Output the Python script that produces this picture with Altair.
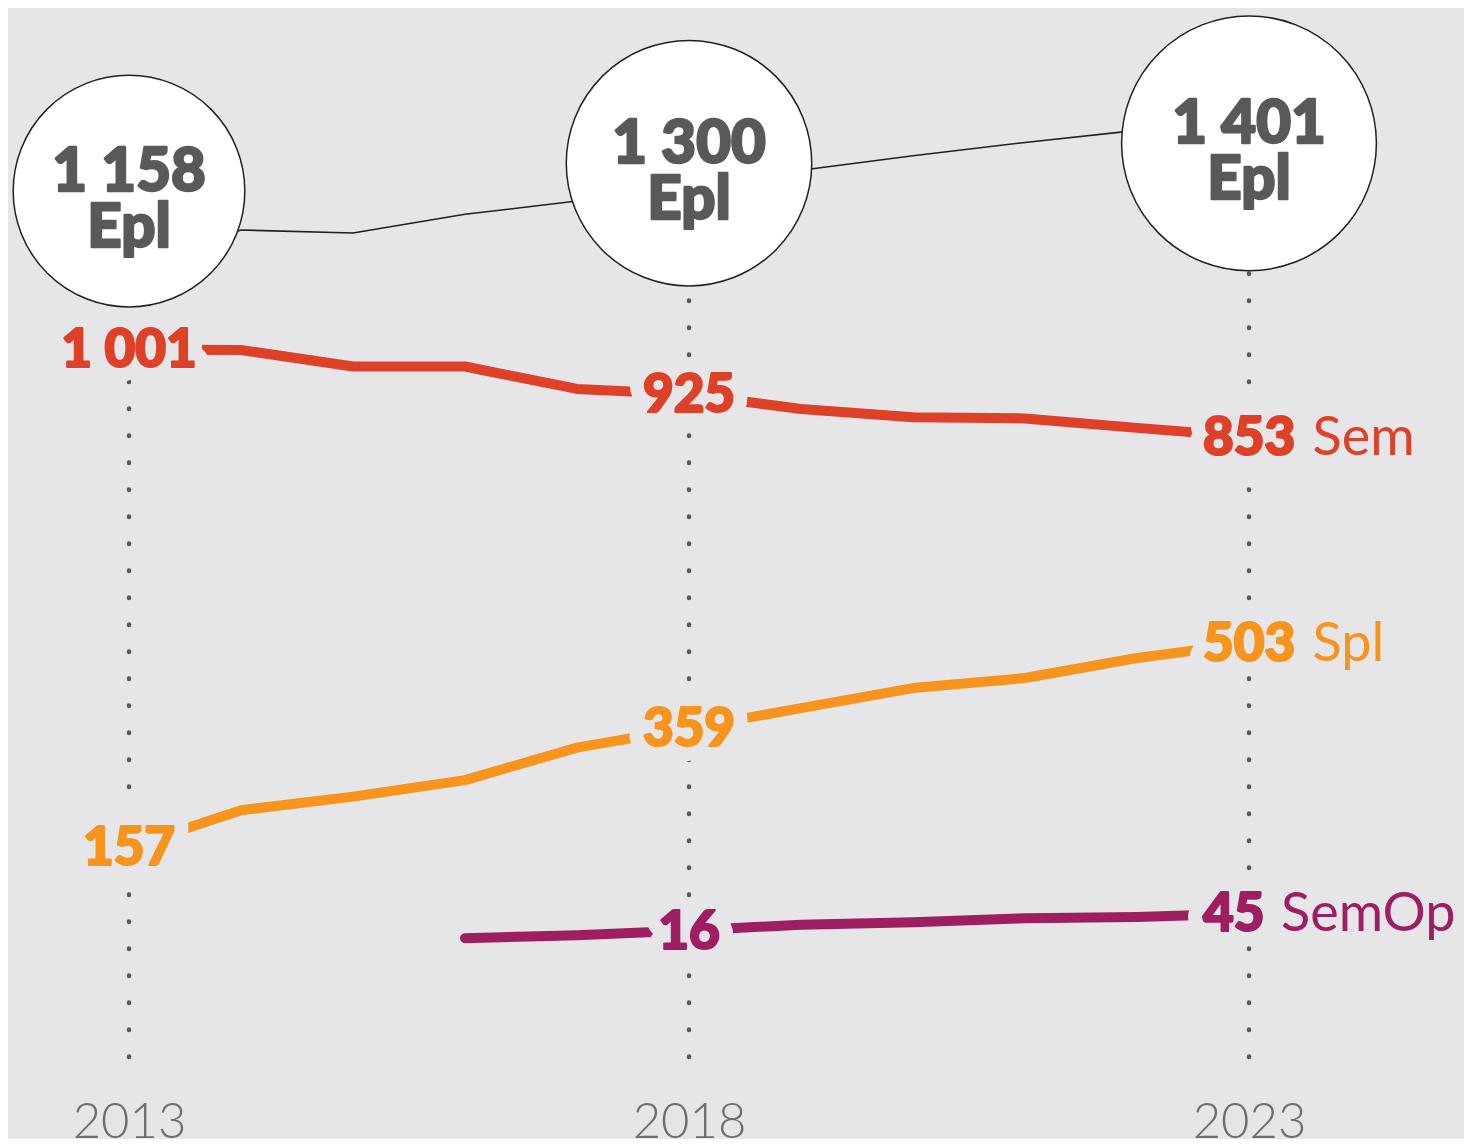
import altair as alt
import pandas as pd

# ---------------- data ----------------
years = list(range(2013, 2024))
sem = [1001, 1000, 972, 972, 934, 925, 900, 886, 884, 868, 853]
spl = [157, 220, 243, 271, 326, 359, 393, 427, 444, 478, 503]
semop = [None, None, None, 3, 8, 16, 26, 30, 37, 39, 45]
epl = [1158, 1220, 1215, 1246, 1268, 1300, 1319, 1343, 1365, 1385, 1401]

series_names = ["Sem", "Spl", "SemOp"]
series_values = [sem, spl, semop]
series_colors = ["#de4028", "#f7941e", "#9e1e62"]

circle_years = [2013, 2018, 2023]
circle_totals = [1158, 1300, 1401]
circle_unit = "Epl"

mid_label_years = [2013, 2018]
end_label_year = 2023
tick_years = [2013, 2018, 2023]


def fmt(v):
    return f"{v:,}".replace(",", " ")


# ---------------- tables ----------------
line_rows, mid_rows, end_rows = [], [], []
for name, vals in zip(series_names, series_values):
    for y, v in zip(years, vals):
        if v is None:
            continue
        line_rows.append({"year": y, "series": name, "value": v})
        if y in mid_label_years:
            mid_rows.append({"year": y, "series": name, "value": v, "label": fmt(v)})
        if y == end_label_year:
            end_rows.append({"year": y, "series": name, "value": v, "label": fmt(v)})
line_df = pd.DataFrame(line_rows)
mid_df = pd.DataFrame(mid_rows)
end_df = pd.DataFrame(end_rows)
epl_df = pd.DataFrame({"year": years, "total": epl})
circle_df = pd.DataFrame({
    "year": circle_years,
    "total": circle_totals,
    "label": [fmt(v) for v in circle_totals],
    "unit": [circle_unit] * len(circle_years),
})
rule_df = pd.DataFrame({"year": tick_years})

# ---------------- style ----------------
BG = "#e6e6e8"
DARK = "#58595b"
FONT = "Lato"
W, H = 1456, 1131

x0 = 121.0
per_year = 112.0
x_scale = alt.Scale(domain=[2013 - x0 / per_year, 2013 + (W - x0) / per_year], nice=False, zero=False)
x_axis = alt.Axis(values=tick_years, format="d", ticks=False, domain=False, grid=False,
                  labelFont=FONT, labelFontWeight=300, labelFontSize=49, labelColor="#6d6e71",
                  labelBaseline="alphabetic", labelPadding=-2, labelFlush=False,
                  labelOverlap=False, title=None)
X = alt.X("year:Q", scale=x_scale, axis=x_axis)

# series scale: plot_y = 932 - 0.59 v
s_scale = alt.Scale(domain=[(932 - H) / 0.59, 932 / 0.59], nice=False, zero=False)
# total line scale: plot_y = 960.9 - 0.604 v
t_scale = alt.Scale(domain=[(958.9 - H) / 0.604, 958.9 / 0.604], nice=False, zero=False)
# circle position scale: plot_y = 410.6 - 0.1965 v
c_scale = alt.Scale(domain=[(410.6 - H) / 0.1965, 410.6 / 0.1965], nice=False, zero=False)

color_scale = alt.Scale(domain=series_names, range=series_colors)
C = alt.Color("series:N", scale=color_scale, legend=None)
S = alt.Stroke("series:N", scale=color_scale, legend=None)
YS = alt.Y("value:Q", scale=s_scale, axis=None)

rules = alt.Chart(rule_df).mark_rule(
    color=DARK, strokeWidth=4.5, strokeDash=[0.5, 26.5], strokeCap="round"
).encode(x=X, y=alt.value(1049), y2=alt.value(240))

total_line = alt.Chart(epl_df).mark_line(color="#231f20", strokeWidth=1.6).encode(
    x=X, y=alt.Y("total:Q", scale=t_scale, axis=None)
)

series_lines = alt.Chart(line_df).mark_line(
    strokeWidth=10, strokeCap="round", strokeJoin="round"
).encode(x=X, y=YS, color=C, detail="series:N")

mid_halo = alt.Chart(mid_df).mark_text(
    font=FONT, fontWeight=900, fontSize=53, fill=BG, stroke=BG, strokeWidth=30,
    strokeJoin="round", align="center", baseline="middle", dy=2
).encode(x=X, y=YS, text="label:N")

mid_text = alt.Chart(mid_df).mark_text(
    font=FONT, fontWeight=900, fontSize=53, align="center", baseline="middle",
    strokeWidth=2.2, strokeJoin="round", dy=2
).encode(x=X, y=YS, text="label:N", color=C, stroke=S)

end_halo = alt.Chart(end_df).mark_text(
    font=FONT, fontWeight=900, fontSize=53, fill=BG, stroke=BG, strokeWidth=30,
    strokeJoin="round", align="left", baseline="middle", dx=-46, dy=2
).encode(x=X, y=YS, text="label:N")

end_text = alt.Chart(end_df).mark_text(
    font=FONT, fontWeight=900, fontSize=53, align="left", baseline="middle", dx=-46,
    strokeWidth=2.2, strokeJoin="round", dy=2
).encode(x=X, y=YS, text="label:N", color=C, stroke=S)

end_name = alt.Chart(end_df).transform_calculate(
    name_x=f"datum.year + (length(datum.label) * 31.5 - 31) / {per_year}"
).mark_text(
    font=FONT, fontWeight=400, fontSize=54, align="left", baseline="middle", dy=2
).encode(x=alt.X("name_x:Q", scale=x_scale, axis=x_axis), y=YS, text="series:N", color=C)

YC = alt.Y("total:Q", scale=c_scale, axis=None)
circles = alt.Chart(circle_df).mark_circle(
    fill="white", stroke="#231f20", strokeWidth=1.5, opacity=1, fillOpacity=1
).encode(
    x=X, y=YC,
    size=alt.Size("total:Q", scale=alt.Scale(domain=[0, 1401], range=[0, 64930]), legend=None),
)
circle_num = alt.Chart(circle_df).mark_text(
    font=FONT, fontWeight=900, fontSize=60, color=DARK, stroke=DARK, strokeWidth=2.4,
    strokeJoin="round", align="center", baseline="alphabetic", dy=0
).encode(x=X, y=YC, text="label:N")
circle_unit_t = alt.Chart(circle_df).mark_text(
    font=FONT, fontWeight=900, fontSize=60, color=DARK, stroke=DARK, strokeWidth=2.4,
    strokeJoin="round", align="center", baseline="alphabetic", dy=56
).encode(x=X, y=YC, text="unit:N")

chart = alt.layer(
    rules, total_line, series_lines, mid_halo, mid_text, end_halo, end_text, end_name,
    circles, circle_num, circle_unit_t
).resolve_scale(y="independent").properties(
    width=W, height=H, background=BG, padding=0,
    autosize=alt.AutoSizeParams(type="none"),
).configure_view(stroke=None)

chart.save("out.html", embed_options={"renderer": "svg", "actions": False})
